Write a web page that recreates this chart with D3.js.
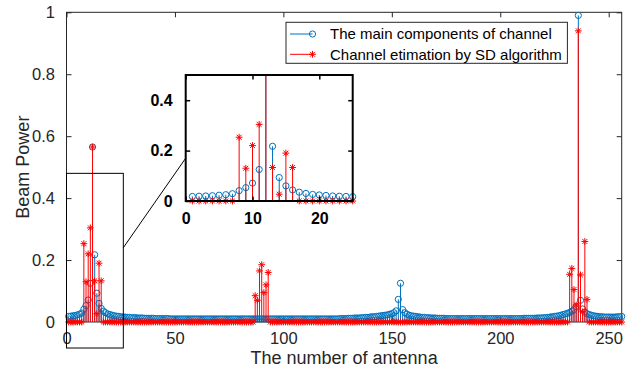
<!DOCTYPE html>
<html><head><meta charset="utf-8">
<script src="https://cdn.jsdelivr.net/npm/d3@7"></script>
<style>body{margin:0;background:#fff}svg{display:block}text{font-family:"Liberation Sans",Arial,Helvetica,sans-serif}</style>
</head><body><div id="chart"></div>
<script>
// ---- data ----
const blueSeries = [
0.018,0.019,0.020,0.021,0.023,0.025,0.029,0.041,0.053,0.071,0.125,0.565,0.217,0.093,0.060,0.044,0.035,0.030,0.026,0.024,0.022,0.020,0.019,0.018,0.017,
0.016,0.016,0.015,0.015,0.014,0.014,0.014,0.013,0.013,0.013,0.012,0.012,0.012,0.012,0.012,0.011,0.011,0.011,0.011,0.011,0.011,0.011,0.010,0.010,0.010,
0.010,0.010,0.010,0.010,0.010,0.010,0.010,0.010,0.010,0.010,0.010,0.010,0.010,0.010,0.010,0.010,0.010,0.010,0.010,0.010,0.010,0.010,0.010,0.010,0.010,
0.010,0.010,0.010,0.010,0.010,0.010,0.010,0.010,0.010,0.010,0.010,0.010,0.010,0.010,0.010,0.010,0.010,0.010,0.010,0.010,0.010,0.010,0.010,0.010,0.010,
0.010,0.010,0.010,0.010,0.010,0.010,0.010,0.010,0.010,0.010,0.010,0.010,0.010,0.010,0.010,0.010,0.010,0.010,0.010,0.010,0.010,0.010,0.010,0.010,0.010,
0.011,0.011,0.011,0.011,0.012,0.012,0.012,0.013,0.013,0.013,0.014,0.014,0.015,0.015,0.016,0.017,0.017,0.018,0.019,0.020,0.021,0.022,0.023,0.025,0.027,
0.030,0.036,0.073,0.125,0.040,0.030,0.025,0.022,0.020,0.019,0.018,0.017,0.016,0.015,0.015,0.014,0.014,0.013,0.013,0.013,0.012,0.012,0.012,0.012,0.011,
0.011,0.011,0.011,0.011,0.011,0.011,0.011,0.011,0.011,0.011,0.011,0.011,0.011,0.011,0.011,0.011,0.011,0.011,0.011,0.011,0.011,0.011,0.011,0.011,0.011,
0.011,0.011,0.011,0.011,0.011,0.011,0.011,0.011,0.011,0.011,0.012,0.012,0.012,0.012,0.012,0.012,0.013,0.013,0.013,0.014,0.014,0.015,0.016,0.017,0.018,
0.019,0.020,0.022,0.024,0.026,0.028,0.031,0.035,0.040,0.050,0.990,0.070,0.042,0.032,0.027,0.024,0.022,0.020,0.019,0.018,0.017,0.017,0.016,0.016,0.016,
0.016,0.016,0.016,0.017,0.017,0.018
];
// SD estimate: non-zero beams (all other beams are 0)
const redIndex = [8,9,10,11,12,13,14,15,16, 87,88,89,90,91,92,93, 232,233,234,235,236,237,238,239,240];
const redValue = [0.253,0.130,0.220,0.304,0.565,0.133,0.027,0.190,0.133, 0.085,0.070,0.165,0.185,0.095,0.120,0.160, 0.154,0.173,0.105,0.055,0.940,0.152,0.033,0.260,0.073];
const xTicks = [0,50,100,150,200,250];
const yTicks = [0,0.2,0.4,0.6,0.8,1];
const yTickLabels = ["0","0.2","0.4","0.6","0.8","1"];
const insetXTicks = [0,10,20];
const insetYTicks = [0,0.2,0.4];
const insetYTickLabels = ["0","0.2","0.4"];
const legendLabels = ["The main components of channel","Channel etimation by SD algorithm"];

const N = blueSeries.length;
const blueData = blueSeries.map((v,i)=>({i:i+1,v}));
const redMap = new Map(redIndex.map((k,j)=>[k,redValue[j]]));
const redData = d3.range(1,N+1).map(i=>({i,v:redMap.has(i)?redMap.get(i):0}));

// ---- layout ----
const W=635,H=375;
const BLUE="#0072BD", RED="#FF0000", AX="#262626";
const svg=d3.select("#chart").append("svg").attr("width",W).attr("height",H);
const x=d3.scaleLinear().domain([0,256]).range([66.5,621.7]);
const y=d3.scaleLinear().domain([0,1]).range([322,12.3]);

function star(s){const d=s*0.72;return `M${-s},0L${s},0M0,${-s}L0,${s}M${-d},${-d}L${d},${d}M${-d},${d}L${d},${-d}`;}

function drawStems(g,xs,ys,data,color,marker){
  g.selectAll(null).data(data.filter(d=>d.v>0)).join("line")
    .attr("x1",d=>xs(d.i)).attr("x2",d=>xs(d.i)).attr("y1",ys(0)).attr("y2",d=>ys(d.v))
    .attr("stroke",color).attr("stroke-width",1);
  if(marker==="o"){
    g.selectAll(null).data(data).join("circle")
      .attr("cx",d=>xs(d.i)).attr("cy",d=>ys(d.v)).attr("r",3.1)
      .attr("fill","none").attr("stroke",color).attr("stroke-width",1);
  } else {
    g.selectAll(null).data(data).join("path")
      .attr("transform",d=>`translate(${xs(d.i)},${ys(d.v)})`).attr("d",star(3.4))
      .attr("fill","none").attr("stroke",color).attr("stroke-width",1);
  }
}

// main axes box + ticks
const main=svg.append("g");
main.append("rect").attr("x",x(0)).attr("y",y(1)).attr("width",x(256)-x(0)).attr("height",y(0)-y(1))
  .attr("fill","#fff").attr("stroke",AX).attr("stroke-width",1);
function styleAxis(g,labels){
  g.select(".domain").remove();
  g.selectAll(".tick line").attr("stroke",AX);
  g.selectAll(".tick text").attr("fill",AX).style("font-size","16.5px").style("font-family",'"Liberation Sans",Arial,sans-serif');
  if(!labels) g.selectAll(".tick text").remove();
}
main.append("g").attr("transform",`translate(0,${y(0)})`)
  .call(d3.axisBottom(x).tickValues(xTicks).tickSize(-5).tickPadding(10.5).tickFormat(d3.format("d")))
  .call(g=>styleAxis(g,true));
main.append("g").attr("transform",`translate(0,${y(1)})`)
  .call(d3.axisTop(x).tickValues(xTicks).tickSize(-5)).call(g=>styleAxis(g,false));
main.append("g").attr("transform",`translate(${x(0)},0)`)
  .call(d3.axisLeft(y).tickValues(yTicks).tickSize(-5).tickPadding(11.5).tickFormat((d,i)=>yTickLabels[i]))
  .call(g=>styleAxis(g,true));
main.append("g").attr("transform",`translate(${x(256)},0)`)
  .call(d3.axisRight(y).tickValues(yTicks).tickSize(-5)).call(g=>styleAxis(g,false));

// series
drawStems(main.append("g"),x,y,blueData,BLUE,"o");
drawStems(main.append("g"),x,y,redData,RED,"*");

// labels
svg.append("text").attr("x",(x(0)+x(256))/2).attr("y",364).attr("text-anchor","middle")
  .attr("fill",AX).style("font-size","18px").text("The number of antenna");
svg.append("text").attr("transform",`translate(28.5,${(y(0)+y(1))/2}) rotate(-90)`).attr("text-anchor","middle")
  .attr("fill",AX).style("font-size","18px").text("Beam Power");

// zoom rectangle and connector
const insetX=d3.scaleLinear().domain([0,25]).range([185.7,352.7]);
const insetY=d3.scaleLinear().domain([0,0.5]).range([201,75]);
svg.append("rect").attr("x",x(0)).attr("y",y(0.48)).attr("width",x(26.2)-x(0)).attr("height",y(-0.084)-y(0.48))
  .attr("fill","none").attr("stroke","#000").attr("stroke-width",1);
svg.append("line").attr("x1",x(26.2)).attr("y1",y(0.24)).attr("x2",insetX(0)).attr("y2",insetY(0.17))
  .attr("stroke","#000").attr("stroke-width",1);

// inset
const inset=svg.append("g");
inset.append("rect").attr("x",insetX(0)).attr("y",insetY(0.5)).attr("width",insetX(25)-insetX(0)).attr("height",insetY(0)-insetY(0.5))
  .attr("fill","#fff");
svg.append("clipPath").attr("id","clipInset").append("rect")
  .attr("x",insetX(0)-5).attr("y",insetY(0.5)).attr("width",insetX(25)-insetX(0)+10).attr("height",insetY(0)-insetY(0.5)+6);
const ig=inset.append("g").attr("clip-path","url(#clipInset)");
drawStems(ig.append("g"),insetX,insetY,blueData.filter(d=>d.i<=25),BLUE,"o");
drawStems(ig.append("g"),insetX,insetY,redData.filter(d=>d.i<=25),RED,"*");
function styleInset(g,labels){
  g.select(".domain").remove();
  g.selectAll(".tick line").attr("stroke","#000").attr("stroke-width",1.5);
  g.selectAll(".tick text").attr("fill","#000").style("font-size","16px").style("font-weight","bold").style("font-family",'"Liberation Sans",Arial,sans-serif');
  if(!labels) g.selectAll(".tick text").remove();
}
inset.append("g").attr("transform",`translate(0,${insetY(0)})`)
  .call(d3.axisBottom(insetX).tickValues(insetXTicks).tickSize(-4.5).tickPadding(12)).call(g=>styleInset(g,true));
inset.append("g").attr("transform",`translate(0,${insetY(0.5)})`)
  .call(d3.axisTop(insetX).tickValues(insetXTicks).tickSize(-4.5)).call(g=>styleInset(g,false));
inset.append("g").attr("transform",`translate(${insetX(0)},0)`)
  .call(d3.axisLeft(insetY).tickValues(insetYTicks).tickSize(-4.5).tickPadding(13).tickFormat((d,i)=>insetYTickLabels[i])).call(g=>styleInset(g,true));
inset.append("g").attr("transform",`translate(${insetX(25)},0)`)
  .call(d3.axisRight(insetY).tickValues(insetYTicks).tickSize(-4.5)).call(g=>styleInset(g,false));
inset.append("rect").attr("x",insetX(0)).attr("y",insetY(0.5)).attr("width",insetX(25)-insetX(0)).attr("height",insetY(0)-insetY(0.5))
  .attr("fill","none").attr("stroke","#000").attr("stroke-width",2);

// legend
const lg=svg.append("g");
lg.append("rect").attr("x",286).attr("y",22.3).attr("width",281.4).attr("height",41)
  .attr("fill","#fff").attr("stroke",AX).attr("stroke-width",1);
const rows=[{c:BLUE,m:"o",yy:34,t:legendLabels[0]},{c:RED,m:"*",yy:54.3,t:legendLabels[1]}];
rows.forEach(r=>{
  lg.append("line").attr("x1",290).attr("x2",312.5).attr("y1",r.yy).attr("y2",r.yy).attr("stroke",r.c).attr("stroke-width",1);
  if(r.m==="o") lg.append("circle").attr("cx",312.5).attr("cy",r.yy).attr("r",3.1).attr("fill","none").attr("stroke",r.c);
  else lg.append("path").attr("transform",`translate(312.5,${r.yy})`).attr("d",star(3.4)).attr("fill","none").attr("stroke",r.c);
  lg.append("text").attr("x",330).attr("y",r.yy+5.2).attr("fill","#000").style("font-size","15px").text(r.t);
});
</script></body></html>
